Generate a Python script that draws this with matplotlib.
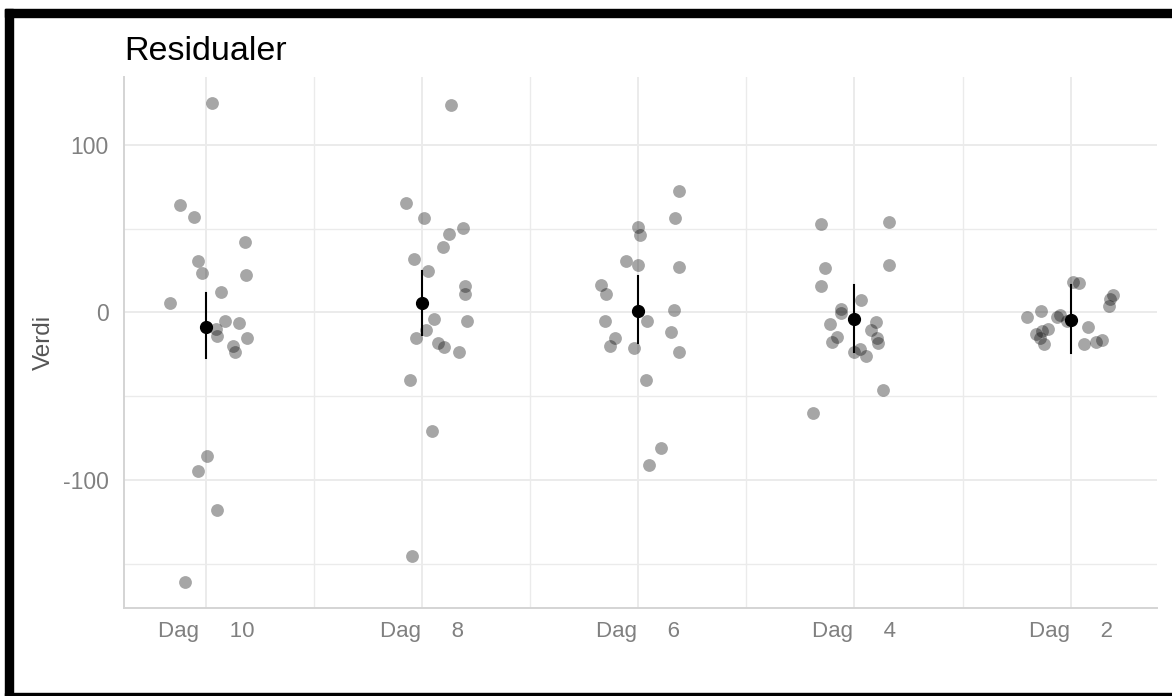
import matplotlib
matplotlib.use("Agg")
import matplotlib.pyplot as plt
from matplotlib.patches import Rectangle

plt.rcParams['font.family'] = ['Liberation Sans', 'DejaVu Sans']
plt.rcParams['axes.unicode_minus'] = False

# dager (fra venstre mot høyre)
dager = ["Dag     10", "Dag     8", "Dag     6", "Dag     4", "Dag     2"]

# residualer per dag, med horisontal jitter (i kategori-enheter)
resid_dag10 = [125.0, 64.2, 57.1, 42.0, 30.9, 23.5, 22.5, 12.2, 5.3, -4.9,
               -6.3, -10.0, -14.4, -15.4, -19.8, -23.5, -85.5, -95.0, -118.1, -160.8]
jit_dag10 = [0.025, -0.12, -0.058, 0.178, -0.039, -0.02, 0.186, 0.07, -0.166, 0.088,
             0.15, 0.044, 0.05, 0.19, 0.125, 0.133, 0.005, -0.039, 0.05, -0.10]

resid_dag8 = [124.0, 65.2, 56.1, 50.5, 46.6, 38.8, 31.9, 24.9, 15.8, 11.0,
              -3.9, -4.9, -10.8, -15.4, -18.4, -20.4, -23.5, -40.6, -70.8, -145.7]
jit_dag8 = [0.134, -0.075, 0.008, 0.189, 0.123, 0.098, -0.039, 0.027, 0.198, 0.198,
            0.053, 0.206, 0.019, -0.028, 0.072, 0.10, 0.169, -0.056, 0.044, -0.047]

resid_dag6 = [72.2, 56.1, 50.7, 46.4, 30.5, 28.3, 27.3, 16.2, 10.8, 1.7,
              -4.9, -5.3, -12.0, -15.4, -20.0, -21.5, -23.5, -40.6, -80.9, -91.3]
jit_dag6 = [0.189, 0.17, -0.002, 0.006, -0.058, -0.002, 0.189, -0.175, -0.148, 0.163,
            -0.156, 0.038, 0.152, -0.109, -0.13, -0.02, 0.189, 0.036, 0.106, 0.05]

resid_dag4 = [52.5, 53.7, 26.3, 28.3, 15.8, 7.6, 2.1, -0.3, -5.7, -7.1,
              -10.8, -15.4, -14.8, -17.6, -18.4, -21.9, -23.5, -26.1, -46.6, -60.3]
jit_dag4 = [-0.155, 0.161, -0.138, 0.161, -0.155, 0.03, -0.064, -0.064, 0.098, -0.111,
            0.077, 0.105, -0.08, -0.103, 0.108, 0.027, 0.0, 0.055, 0.134, -0.192]

resid_dag2 = [18.2, 17.8, 10.2, 8.2, 3.7, -2.7, 0.9, -1.3, -2.9, -5.3,
              -8.6, -10.0, -11.4, -12.8, -15.2, -19.0, -18.8, -17.8, -16.4]
jit_dag2 = [0.013, 0.038, 0.198, 0.184, 0.18, -0.2, -0.136, -0.048, -0.063, -0.016,
            0.081, -0.106, -0.13, -0.158, -0.14, -0.125, 0.063, 0.116, 0.147]

# gjennomsnitt med feilstolper
snitt = [-8.8, 5.3, 0.7, -3.9, -4.3]
nedre = [-27.5, -13.4, -18.4, -23.5, -24.1]
ovre = [11.4, 24.9, 21.9, 16.2, 16.4]

resid = [resid_dag10, resid_dag8, resid_dag6, resid_dag4, resid_dag2]
jitter = [jit_dag10, jit_dag8, jit_dag6, jit_dag4, jit_dag2]

fig = plt.figure(figsize=(11.72, 6.96), dpi=100)
ax = fig.add_axes([124 / 1172, 1 - 608 / 696, (1157 - 124) / 1172, (608 - 77) / 696])

for i, (vals, jit) in enumerate(zip(resid, jitter)):
    xs = [i + j for j in jit]
    ax.scatter(xs, vals, s=85, color="black", alpha=0.35, linewidths=0, zorder=3)

pos = list(range(len(dager)))
for i in pos:
    ax.plot([i, i], [nedre[i], ovre[i]], color="black", lw=1.5, zorder=4)
ax.plot(pos, snitt, "o", color="black", markersize=8.5, zorder=5)

ax.set_xlim(-0.38, 4.40)
ax.set_ylim(-176.5, 140.5)
ax.set_xticks(pos)
ax.set_xticklabels(dager)
ax.set_yticks([-100, 0, 100])
ax.set_xticks([p + 0.5 for p in pos[:-1]], minor=True)
ax.set_yticks([-150, -50, 50], minor=True)

ax.grid(True, which="major", color="#ebebeb", lw=1.4, zorder=0)
ax.grid(True, which="minor", color="#ebebeb", lw=1.0, zorder=0)
ax.set_axisbelow(True)

for s in ["top", "right"]:
    ax.spines[s].set_visible(False)
for s in ["left", "bottom"]:
    ax.spines[s].set_color("#d4d4d4")
    ax.spines[s].set_linewidth(1.4)

ax.tick_params(which="both", length=0)
ax.tick_params(axis="y", pad=11, labelsize=16.5, labelcolor="#808080")
ax.tick_params(axis="x", pad=9, labelsize=16, labelcolor="#808080")

ax.set_ylabel("Verdi", fontsize=17.5, color="#555555", labelpad=6)
ax.set_title("Residualer", loc="left", fontsize=24.5, color="black", pad=12)

# svart ramme rundt figuren
fig.add_artist(Rectangle((5 / 1172, 0), 8 / 1172, (696 - 9) / 696,
                         transform=fig.transFigure, color="black", zorder=10))
fig.add_artist(Rectangle((5 / 1172, 1 - 17 / 696), 1 - 5 / 1172, 8 / 696,
                         transform=fig.transFigure, color="black", zorder=10))
fig.add_artist(Rectangle((5 / 1172, 0), 1 - 5 / 1172, 3 / 696,
                         transform=fig.transFigure, color="black", zorder=10))

fig.savefig("out.png", dpi=100)
